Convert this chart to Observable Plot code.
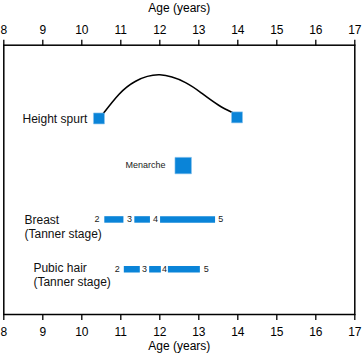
<!DOCTYPE html>
<html>
<head>
<meta charset="utf-8">
<script src="https://cdn.jsdelivr.net/npm/d3@7"></script>
<script src="https://cdn.jsdelivr.net/npm/@observablehq/plot@0.6"></script>
<style>
  html, body { margin: 0; padding: 0; background: #fff; }
  #chart svg { display: block; }
</style>
</head>
<body>
<div id="chart"></div>
<script>
// ---- data (ages in years; rows on an arbitrary 0–100 vertical scale, top to bottom) ----
const ageTicks = [8, 9, 10, 11, 12, 13, 14, 15, 16, 17];
const axisTitle = "Age (years)";

// height spurt curve
const spurtAges = [10.55, 10.95, 11.38, 12.0, 12.66, 13.09, 13.51, 13.86];
const spurtRows = [25.4, 18.3, 13.4, 11.0, 13.9, 18.0, 22.3, 25.0];
// height spurt start / end markers
const spurtMarkAges = [10.44, 13.98];
const spurtMarkRows = [27.2, 26.8];

// menarche
const menarcheAge = 12.6;
const menarcheRow = 44.7;

// Tanner stage segments
const breastStart = [10.59, 11.36, 12.02];
const breastEnd = [11.08, 11.76, 13.43];
const breastStageLabels = ["2", "3", "4", "5"];
const breastStageAges = [10.39, 11.22, 11.89, 13.56];
const breastRow = 64.7;

const pubicStart = [11.09, 11.74, 12.22];
const pubicEnd = [11.50, 12.04, 13.04];
const pubicStageLabels = ["2", "3", "4", "5"];
const pubicStageAges = [10.91, 11.61, 12.12, 13.19];
const pubicRow = 83.2;

// row labels
const rowLabels = ["Height spurt", "Breast\n(Tanner stage)", "Pubic hair\n(Tanner stage)"];
const rowLabelAges = [8.48, 8.53, 8.76];
const rowLabelRows = [27.3, 67.3, 85.0];
const menarcheLabel = "Menarche";
const menarcheLabelAge = 11.12;

// ---- build tables ----
const curve = spurtAges.map((a, i) => ({age: a, row: spurtRows[i]}));
const marks = spurtMarkAges.map((a, i) => ({age: a, row: spurtMarkRows[i]}));
const breastSegs = breastStart.map((s, i) => ({x1: s, x2: breastEnd[i], row: breastRow}));
const pubicSegs = pubicStart.map((s, i) => ({x1: s, x2: pubicEnd[i], row: pubicRow}));
const stageText = [
  ...breastStageLabels.map((t, i) => ({t, age: breastStageAges[i], row: breastRow})),
  ...pubicStageLabels.map((t, i) => ({t, age: pubicStageAges[i], row: pubicRow}))
];
const labels = rowLabels.map((t, i) => ({t, age: rowLabelAges[i], row: rowLabelRows[i]}));

const blue = "#0a84d8";
const font = "Liberation Sans, Arial, Helvetica, sans-serif";

const chart = Plot.plot({
  width: 362,
  height: 360,
  marginLeft: 3.3,
  marginRight: 7.7,
  marginTop: 44.7,
  marginBottom: 46,
  style: {fontFamily: font, fontSize: "12px", color: "#000", background: "#fff"},
  x: {domain: [8, 17]},
  y: {domain: [0, 100], reverse: true, axis: null},
  marks: [
    Plot.frame({stroke: "#000", strokeWidth: 1.5}),
    Plot.axisX({anchor: "top", ticks: ageTicks, tickSize: 6, tickPadding: 5, tickFormat: d => String(d),
      label: null, fontSize: 12, strokeWidth: 1.3}),
    Plot.axisX({anchor: "bottom", ticks: ageTicks, tickSize: 6, tickPadding: 7, tickFormat: d => String(d),
      label: null, fontSize: 12, strokeWidth: 1.3}),
    Plot.text([axisTitle], {frameAnchor: "top", dy: -37, text: d => d, fontSize: 12, lineAnchor: "middle"}),
    Plot.text([axisTitle], {frameAnchor: "bottom", dy: 32, text: d => d, fontSize: 12, lineAnchor: "middle"}),
    Plot.line(curve, {x: "age", y: "row", curve: "natural", stroke: "#000", strokeWidth: 1.6}),
    Plot.dot(marks, {x: "age", y: "row", symbol: "square", r: 6.2, fill: blue, stroke: "#8cc4ee", strokeWidth: 0.6}),
    Plot.dot([{age: menarcheAge, row: menarcheRow}], {x: "age", y: "row", symbol: "square", r: 9.3, fill: blue, stroke: "#8cc4ee", strokeWidth: 0.6}),
    Plot.ruleY(breastSegs, {x1: "x1", x2: "x2", y: "row", stroke: blue, strokeWidth: 6.5, strokeLinecap: "butt"}),
    Plot.ruleY(pubicSegs, {x1: "x1", x2: "x2", y: "row", stroke: blue, strokeWidth: 6.5, strokeLinecap: "butt"}),
    Plot.text(stageText, {x: "age", y: "row", text: "t", fontSize: 9, fill: "#222", textAnchor: "middle"}),
    Plot.text(labels, {x: "age", y: "row", text: "t", fontSize: 12, fill: "#111", textAnchor: "start", lineHeight: 1.2}),
    Plot.text([{t: menarcheLabel, age: menarcheLabelAge, row: menarcheRow}], {x: "age", y: "row", text: "t", fontSize: 9, fill: "#222", textAnchor: "start"})
  ]
});
document.getElementById("chart").appendChild(chart);
</script>
</body>
</html>
